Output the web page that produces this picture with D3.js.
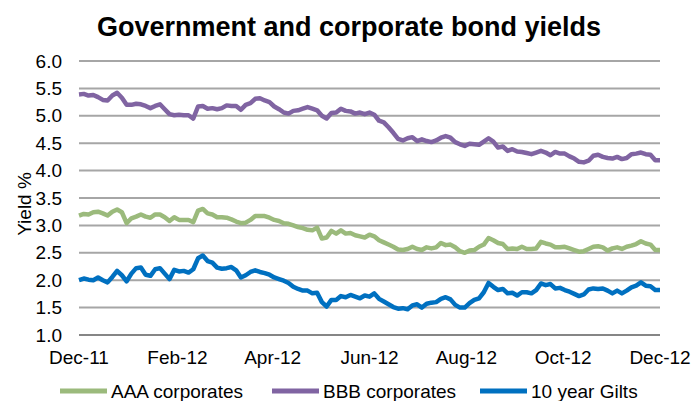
<!DOCTYPE html>
<html>
<head>
<meta charset="utf-8">
<script src="https://cdn.jsdelivr.net/npm/d3@7"></script>
<style>
  html, body { margin: 0; padding: 0; background: #fff; }
  svg { display: block; font-family: "Liberation Sans", Arial, sans-serif; }
</style>
</head>
<body>
<svg id="container"></svg>
<script>
// observation dates, every 3 days
const dates = [
  "2011-12-01","2011-12-04","2011-12-07","2011-12-10","2011-12-13","2011-12-16","2011-12-19","2011-12-22","2011-12-25","2011-12-28","2011-12-31",
  "2012-01-03","2012-01-06","2012-01-09","2012-01-12","2012-01-15","2012-01-18","2012-01-21","2012-01-24","2012-01-27","2012-01-30",
  "2012-02-02","2012-02-05","2012-02-08","2012-02-11","2012-02-14","2012-02-17","2012-02-20","2012-02-23","2012-02-26","2012-02-29",
  "2012-03-03","2012-03-06","2012-03-09","2012-03-12","2012-03-15","2012-03-18","2012-03-21","2012-03-24","2012-03-27","2012-03-30",
  "2012-04-02","2012-04-05","2012-04-08","2012-04-11","2012-04-14","2012-04-17","2012-04-20","2012-04-23","2012-04-26","2012-04-29",
  "2012-05-02","2012-05-05","2012-05-08","2012-05-11","2012-05-14","2012-05-17","2012-05-20","2012-05-23","2012-05-26","2012-05-29",
  "2012-06-01","2012-06-04","2012-06-07","2012-06-10","2012-06-13","2012-06-16","2012-06-19","2012-06-22","2012-06-25","2012-06-28",
  "2012-07-01","2012-07-04","2012-07-07","2012-07-10","2012-07-13","2012-07-16","2012-07-19","2012-07-22","2012-07-25","2012-07-28","2012-07-31",
  "2012-08-03","2012-08-06","2012-08-09","2012-08-12","2012-08-15","2012-08-18","2012-08-21","2012-08-24","2012-08-27","2012-08-30",
  "2012-09-02","2012-09-05","2012-09-08","2012-09-11","2012-09-14","2012-09-17","2012-09-20","2012-09-23","2012-09-26","2012-09-29",
  "2012-10-02","2012-10-05","2012-10-08","2012-10-11","2012-10-14","2012-10-17","2012-10-20","2012-10-23","2012-10-26","2012-10-29",
  "2012-11-01","2012-11-04","2012-11-07","2012-11-10","2012-11-13","2012-11-16","2012-11-19","2012-11-22","2012-11-25","2012-11-28",
  "2012-12-01"
]

const aaa = [
  3.18,3.21,3.20,3.24,3.25,3.22,3.18,3.25,3.29,3.24,3.04,
  3.13,3.16,3.20,3.16,3.14,3.20,3.20,3.15,3.08,3.15,
  3.10,3.10,3.10,3.06,3.27,3.30,3.22,3.20,3.15,3.15,
  3.14,3.11,3.07,3.04,3.05,3.10,3.17,3.17,3.17,3.14,
  3.10,3.08,3.04,3.03,3.00,2.97,2.95,2.92,2.91,2.96,
  2.76,2.78,2.90,2.85,2.91,2.85,2.86,2.82,2.80,2.78,
  2.83,2.80,2.73,2.69,2.65,2.61,2.56,2.55,2.57,2.61,
  2.57,2.55,2.60,2.58,2.60,2.68,2.64,2.65,2.60,2.53,2.50,
  2.54,2.55,2.61,2.65,2.77,2.73,2.68,2.66,2.57,2.58,
  2.57,2.61,2.57,2.57,2.58,2.70,2.67,2.65,2.60,2.60,
  2.61,2.58,2.55,2.52,2.53,2.57,2.61,2.62,2.60,2.54,
  2.58,2.60,2.57,2.61,2.63,2.66,2.71,2.67,2.65,2.55,
  2.55
]

const bbb = [
  5.39,5.40,5.37,5.38,5.34,5.29,5.28,5.37,5.42,5.33,5.20,
  5.20,5.22,5.21,5.18,5.14,5.18,5.21,5.12,5.03,5.01,
  5.02,5.01,5.01,4.95,5.17,5.18,5.13,5.14,5.12,5.14,
  5.19,5.18,5.18,5.11,5.20,5.23,5.31,5.32,5.28,5.25,
  5.17,5.12,5.06,5.04,5.09,5.10,5.13,5.16,5.13,5.10,
  5.00,4.95,5.05,5.06,5.13,5.09,5.08,5.04,5.06,5.03,
  5.06,5.02,4.91,4.88,4.79,4.69,4.58,4.55,4.59,4.61,
  4.54,4.57,4.54,4.52,4.55,4.60,4.63,4.60,4.52,4.48,4.45,
  4.49,4.48,4.47,4.53,4.59,4.53,4.42,4.44,4.36,4.39,
  4.35,4.34,4.32,4.30,4.33,4.36,4.33,4.28,4.34,4.31,
  4.31,4.26,4.22,4.16,4.15,4.18,4.27,4.29,4.25,4.23,
  4.22,4.25,4.21,4.23,4.30,4.31,4.33,4.30,4.29,4.19,
  4.19
]

const gilts = [
  2.00,2.03,2.01,2.00,2.05,2.00,1.96,2.06,2.17,2.09,1.98,
  2.12,2.22,2.23,2.10,2.08,2.20,2.22,2.12,2.02,2.19,
  2.16,2.17,2.14,2.20,2.40,2.45,2.35,2.32,2.23,2.21,
  2.22,2.24,2.18,2.05,2.09,2.15,2.18,2.15,2.13,2.10,
  2.05,2.02,1.99,1.95,1.88,1.84,1.81,1.81,1.76,1.77,
  1.60,1.52,1.64,1.64,1.71,1.69,1.73,1.70,1.67,1.72,
  1.70,1.76,1.66,1.61,1.56,1.51,1.48,1.49,1.47,1.54,
  1.56,1.50,1.57,1.59,1.60,1.66,1.69,1.65,1.55,1.50,1.50,
  1.58,1.64,1.67,1.78,1.95,1.88,1.82,1.84,1.76,1.77,
  1.72,1.78,1.78,1.76,1.82,1.94,1.91,1.93,1.85,1.86,
  1.82,1.79,1.75,1.71,1.74,1.83,1.85,1.84,1.85,1.81,
  1.76,1.81,1.76,1.81,1.87,1.90,1.96,1.90,1.89,1.82,
  1.82
]

const seriesNames = ["AAA corporates", "BBB corporates", "10 year Gilts"]
const seriesColors = ["#9BBA7C", "#8064A2", "#0070C0"]
const yTicks = [1.0, 1.5, 2.0, 2.5, 3.0, 3.5, 4.0, 4.5, 5.0, 5.5, 6.0]
const xTickDates = ["2011-12-01","2012-02-01","2012-04-01","2012-06-01","2012-08-01","2012-10-01","2012-12-01"]

const width = 696
const height = 401
const margin = {left: 79, right: 36, top: 61, bottom: 66}

const parse = d3.timeParse("%Y-%m-%d")

const setup = () => {
	const svg = d3.select("#container")
	   .attr("width", width)
	   .attr("height", height)

	const x = d3.scaleTime()
	            .domain([parse("2011-12-01"), parse("2012-12-01")])
	            .range([margin.left, width - margin.right])
	const y = d3.scaleLinear()
	            .domain([1, 6])
	            .range([height - margin.bottom, margin.top])

	// title
	svg.append("text")
	   .attr("x", 349)
	   .attr("y", 36)
	   .attr("text-anchor", "middle")
	   .attr("font-size", 27)
	   .attr("font-weight", "bold")
	   .text("Government and corporate bond yields")

	// gridlines
	svg.append("g")
	   .selectAll("line")
	   .data(yTicks)
	   .join("line")
	   .attr("x1", margin.left)
	   .attr("x2", width - margin.right)
	   .attr("y1", d => y(d))
	   .attr("y2", d => y(d))
	   .attr("stroke", d => d === 1 ? "#868686" : "#a6a6a6")
	   .attr("stroke-width", 2)

	// y tick labels
	svg.append("g")
	   .selectAll("text")
	   .data(yTicks)
	   .join("text")
	   .attr("x", 62)
	   .attr("y", d => y(d))
	   .attr("dy", "0.35em")
	   .attr("text-anchor", "end")
	   .attr("font-size", 19)
	   .text(d => d3.format(".1f")(d))

	// y title
	svg.append("text")
	   .attr("transform", "translate(24,204) rotate(-90)")
	   .attr("text-anchor", "middle")
	   .attr("dy", "0.35em")
	   .attr("font-size", 19)
	   .text("Yield %")

	// x tick labels
	const fmt = d3.timeFormat("%b-%y")
	svg.append("g")
	   .selectAll("text")
	   .data(xTickDates.map(parse))
	   .join("text")
	   .attr("x", d => x(d))
	   .attr("y", 364)
	   .attr("text-anchor", "middle")
	   .attr("font-size", 19)
	   .text(d => fmt(d))

	// lines
	const lineGenerator = d3.line()
	                        .x((d, i) => x(parse(dates[i])))
	                        .y(d => y(d))
	const allSeries = [aaa, bbb, gilts]
	allSeries.forEach((values, i) => {
		svg.append("path")
		   .attr("d", lineGenerator(values))
		   .attr("stroke", seriesColors[i])
		   .attr("stroke-width", 4.5)
		   .attr("stroke-linejoin", "round")
		   .attr("fill", "none")
	})

	// legend
	const legendX = [60, 272, 480]
	const legend = svg.append("g")
	seriesNames.forEach((name, i) => {
		legend.append("line")
		      .attr("x1", legendX[i])
		      .attr("x2", legendX[i] + 47)
		      .attr("y1", 391)
		      .attr("y2", 391)
		      .attr("stroke", seriesColors[i])
		      .attr("stroke-width", 5)
		legend.append("text")
		      .attr("x", legendX[i] + 51)
		      .attr("y", 391)
		      .attr("dy", "0.35em")
		      .attr("font-size", 19)
		      .text(name)
	})
}

document.addEventListener("DOMContentLoaded", setup)
</script>
</body>
</html>
